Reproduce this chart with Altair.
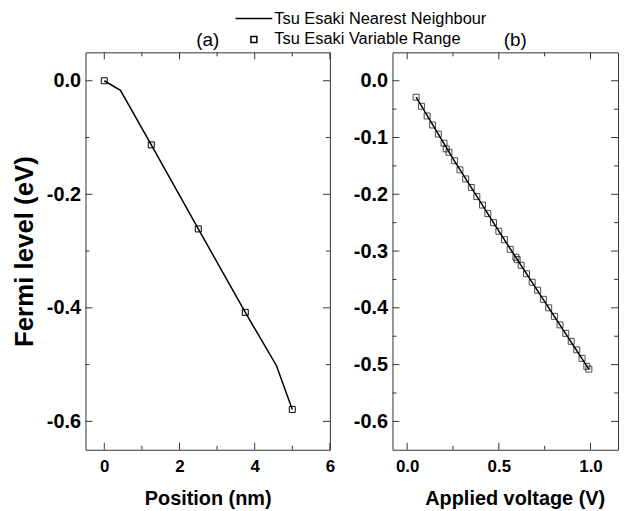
import altair as alt
import pandas as pd

# ---------------- data ----------------
NN = "Tsu Esaki Nearest Neighbour"
VR = "Tsu Esaki Variable Range"

a_pos_line = [0.0, 0.43, 1.25, 2.5, 3.75, 4.58, 5.0]
a_fermi_line = [0.0, -0.017, -0.113, -0.261, -0.408, -0.502, -0.579]
a_pos_pts = [0.0, 1.25, 2.5, 3.75, 5.0]
a_fermi_pts = [0.0, -0.113, -0.261, -0.408, -0.579]

b_volt_line = [0.049, 0.25, 0.5, 0.75, 0.991]
b_fermi_line = [-0.029, -0.137, -0.265, -0.389, -0.508]
b_volt_pts = [0.049, 0.078, 0.109, 0.139, 0.170, 0.201, 0.213, 0.228, 0.259, 0.288,
              0.319, 0.350, 0.380, 0.411, 0.440, 0.471, 0.500, 0.531, 0.562, 0.593,
              0.600, 0.622, 0.651, 0.682, 0.712, 0.743, 0.772, 0.803, 0.834, 0.865,
              0.895, 0.925, 0.954, 0.980, 0.991]
b_fermi_pts = [-0.029, -0.045, -0.062, -0.078, -0.094, -0.110, -0.120, -0.126, -0.141, -0.157,
               -0.173, -0.188, -0.204, -0.219, -0.234, -0.250, -0.265, -0.280, -0.297, -0.311,
               -0.315, -0.325, -0.340, -0.355, -0.369, -0.385, -0.400, -0.415, -0.430, -0.445,
               -0.459, -0.474, -0.489, -0.503, -0.508]

a_x_major = [0, 2, 4, 6]
a_x_minor = [1, 3, 5]
a_y_major = [0.0, -0.2, -0.4, -0.6]
a_y_minor = [-0.1, -0.3, -0.5]
b_x_major = [0.0, 0.5, 1.0]
b_x_minor = [0.25, 0.75]
b_y_major = [0.0, -0.1, -0.2, -0.3, -0.4, -0.5, -0.6]
b_y_minor = [-0.05, -0.15, -0.25, -0.35, -0.45, -0.55]

a_x_domain = [-0.5, 6.0]
b_x_domain = [-0.08, 1.15]
y_domain = [-0.65, 0.05]

# ---------------- style ----------------
FONT = "Liberation Sans"
FRAME = "#333333"
H = 400
MAJ = 7
MIN = 4
Y_LABEL_EXPR = "(datum.value < -0.0001 ? '-' : '') + format(abs(datum.value), '.1f')"


def xs(dom):
    return alt.Scale(domain=dom, nice=False, zero=False)


YS = alt.Scale(domain=y_domain, nice=False, zero=False)


def tick_layers(xdom, xax, yax, xmaj, xmin, ymaj, ymin, W):
    layers = []
    for vals, ln in ((xmaj, MAJ), (xmin, MIN)):
        df = pd.DataFrame({"v": vals})
        base = alt.Chart(df).mark_rule(color=FRAME, strokeWidth=1)
        layers.append(base.encode(x=alt.X("v:Q", scale=xs(xdom), axis=xax),
                                  y=alt.value(H), y2=alt.value(H - ln)))
        layers.append(base.encode(x=alt.X("v:Q", scale=xs(xdom), axis=xax),
                                  y=alt.value(0), y2=alt.value(ln)))
    for vals, ln in ((ymaj, MAJ), (ymin, MIN)):
        df = pd.DataFrame({"v": vals})
        base = alt.Chart(df).mark_rule(color=FRAME, strokeWidth=1)
        layers.append(base.encode(y=alt.Y("v:Q", scale=YS, axis=yax),
                                  x=alt.value(0), x2=alt.value(ln)))
        layers.append(base.encode(y=alt.Y("v:Q", scale=YS, axis=yax),
                                  x=alt.value(W), x2=alt.value(W - ln)))
    return layers


def panel(line_df, pts_df, xdom, xmaj, xmin, ymaj, ymin, xtitle, ytitle, title,
          width, legend=False, xfmt=None, title_dx=0, xtitle_x=None):
    xaxis = dict(values=xmaj, ticks=False, tickSize=0, domain=False, grid=False,
                 labelFont=FONT, labelFontSize=17, labelFontWeight="bold",
                 labelColor="black", labelPadding=9, labelFlush=False,
                 labelOverlap=False, title=xtitle, titleFont=FONT, titleFontSize=20,
                 titleFontWeight="bold", titleColor="black", titlePadding=14)
    if xfmt:
        xaxis["format"] = xfmt
    if xtitle_x is not None:
        xaxis["titleX"] = xtitle_x
    yaxis = dict(values=ymaj, ticks=False, tickSize=0, domain=False, grid=False,
                 labelFont=FONT, labelFontSize=20, labelFontWeight="bold",
                 labelColor="black", labelPadding=5, labelFlush=False,
                 labelOverlap=False, labelExpr=Y_LABEL_EXPR)
    if ytitle:
        yaxis.update(title=ytitle, titleFont=FONT, titleFontSize=26,
                     titleFontWeight="bold", titleColor="black", titlePadding=9)
    else:
        yaxis["title"] = None
    xax = alt.Axis(**xaxis)
    yax = alt.Axis(**yaxis)

    line = alt.Chart(line_df).mark_line(color="black", strokeWidth=1.5).encode(
        x=alt.X("x:Q", scale=xs(xdom), axis=xax),
        y=alt.Y("y:Q", scale=YS, axis=yax),
    )
    pts = alt.Chart(pts_df).mark_point(filled=False, color="black", strokeWidth=1,
                                       opacity=1)
    if legend:
        leg = alt.Legend(title=None, orient="none", legendX=150, legendY=-42,
                         direction="vertical", labelFont=FONT, labelFontSize=16.5,
                         labelColor="black", labelLimit=600, symbolStrokeColor="black",
                         symbolStrokeWidth=1.5, clipHeight=16, rowPadding=4,
                         labelOffset=1, padding=0)
        pl = pts.encode(
            x=alt.X("x:Q", scale=xs(xdom), axis=xax),
            y=alt.Y("y:Q", scale=YS, axis=yax),
            shape=alt.Shape("series:O", scale=alt.Scale(domain=[NN, VR],
                                                        range=["stroke", "square"]),
                            legend=leg),
            size=alt.Size("series:O", scale=alt.Scale(domain=[NN, VR], range=[1369, 36]),
                          legend=leg),
        )
    else:
        pl = pts.mark_point(filled=False, color="black", strokeWidth=1, shape="square",
                            size=36).encode(
            x=alt.X("x:Q", scale=xs(xdom), axis=xax),
            y=alt.Y("y:Q", scale=YS, axis=yax),
        )
    layers = [line, pl] + tick_layers(xdom, xax, yax, xmaj, xmin, ymaj, ymin, width)
    return alt.layer(*layers).properties(
        width=width, height=H,
        title=alt.TitleParams(title, font=FONT, fontSize=19, fontWeight="normal",
                              color="black", offset=2, anchor="middle", dx=title_dx),
    )


a_line_df = pd.DataFrame({"x": a_pos_line, "y": a_fermi_line, "series": NN})
a_pts_df = pd.DataFrame({"x": a_pos_pts, "y": a_fermi_pts, "series": VR})
b_line_df = pd.DataFrame({"x": b_volt_line, "y": b_fermi_line, "series": NN})
b_pts_df = pd.DataFrame({"x": b_volt_pts, "y": b_fermi_pts, "series": VR})

pa = panel(a_line_df, a_pts_df, a_x_domain, a_x_major, a_x_minor, a_y_major, a_y_minor,
           "Position (nm)", "Fermi level (eV)", "(a)", 246, legend=True)
pb = panel(b_line_df, b_pts_df, b_x_domain, b_x_major, b_x_minor, b_y_major, b_y_minor,
           "Applied voltage (V)", None, "(b)", 227, xfmt=".1f", title_dx=10, xtitle_x=123)

chart = alt.hconcat(pa, pb, spacing=63, bounds="flush").properties(
    padding={"left": 3, "top": 1, "right": 0, "bottom": 0}
).configure_view(stroke=FRAME, strokeWidth=1)

chart.save("out.html", embed_options={"renderer": "svg", "actions": False})
